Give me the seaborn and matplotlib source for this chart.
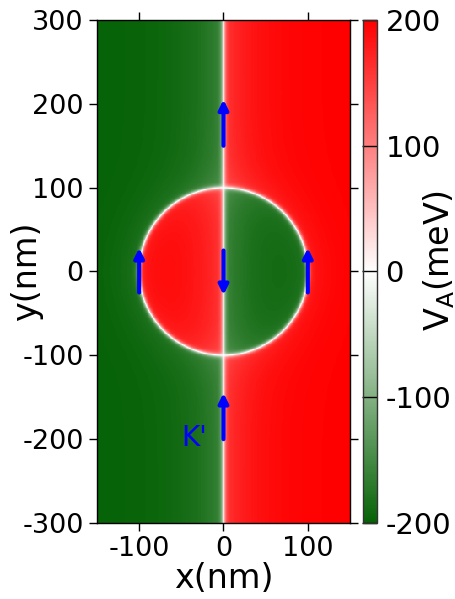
import matplotlib
matplotlib.use("Agg")
import matplotlib.pyplot as plt
from matplotlib.colors import LinearSegmentedColormap
import numpy as np
import seaborn as sns

# domain (nm) and potential parameters
x_nm = np.arange(-150, 150) + 0.5
y_nm = np.arange(300, -300, -1) - 0.5
v0 = 200.0          # meV
radius = 100.0      # nm
wall = 3.0          # wall width, nm
soft_x, soft_x_len = 0.22, 35.0   # softening next to the straight wall
soft_r, soft_r_len = 0.10, 20.0   # softening next to the ring

# arrows (tail -> head) and label
arrow_tails = [(0, 150), (-100, -25), (0, 25), (100, -25), (0, -200)]
arrow_heads = [(0, 205), (-100, 28), (0, -28), (100, 28), (0, -145)]
valley_label = "K'"
valley_pos = (-35, -199)

xticks = [-100, 0, 100]
yticks = [300, 200, 100, 0, -100, -200, -300]
cticks = [-200, -100, 0, 100, 200]


def to_idx(x, y):
    return x + 150, 300 - y


X, Y = np.meshgrid(x_nm, y_nm)
r = np.hypot(X, Y)
amp = 1 - soft_x * np.exp(-np.abs(X) / soft_x_len) - soft_r * np.exp(-np.abs(r - radius) / soft_r_len)
va = v0 * np.tanh(X / wall) * np.tanh((r - radius) / wall) * amp

cmap = LinearSegmentedColormap.from_list("gwr", ["#076307", "#ffffff", "#ff0000"])

fig = plt.figure(figsize=(4.56, 5.99), dpi=100)
ax = fig.add_axes([0.2127, 0.1269, 0.5548, 0.8397])
cax = fig.add_axes([0.796, 0.1269, 0.031, 0.8397])

sns.heatmap(va, ax=ax, cbar_ax=cax, cmap=cmap, vmin=-200, vmax=200,
            xticklabels=False, yticklabels=False, rasterized=True)

for s in ax.spines.values():
    s.set_visible(True)
    s.set_color("black")
    s.set_linewidth(1)

ax.set_xticks([to_idx(v, 0)[0] for v in xticks])
ax.set_xticklabels([str(v) for v in xticks], fontsize=19.5, rotation=0)
ax.set_yticks([to_idx(0, v)[1] for v in yticks])
ax.set_yticklabels([str(v) for v in yticks], fontsize=19.5, rotation=0)
ax.tick_params(direction="out", length=6, width=1, top=True, right=True,
               labeltop=False, labelright=False, colors="black")
ax.set_xlabel("x(nm)", fontsize=24, labelpad=0)
ax.set_ylabel("y(nm)", fontsize=24)
ax.yaxis.set_label_coords(-0.215, 0.5)

for tail, head in zip(arrow_tails, arrow_heads):
    ax.annotate("", xy=to_idx(*head), xytext=to_idx(*tail),
                arrowprops=dict(arrowstyle="-|>", color="blue", lw=3,
                                mutation_scale=14, shrinkA=0, shrinkB=0))
ax.text(*to_idx(*valley_pos), valley_label, color="blue", fontsize=20,
        ha="center", va="center")

cb = ax.collections[0].colorbar
cb.outline.set_linewidth(1)
cb.outline.set_edgecolor("#333333")
cb.set_ticks(cticks)
cb.set_ticklabels([str(v) for v in cticks])
cax.tick_params(labelsize=21, direction="in", length=10.5, width=1, pad=6,
                colors="black")
fig.text(0.962, 0.566, "V$_\\mathregular{A}$(meV)", rotation=90, fontsize=24,
         ha="center", va="center")

fig.savefig("out.png", dpi=100)
